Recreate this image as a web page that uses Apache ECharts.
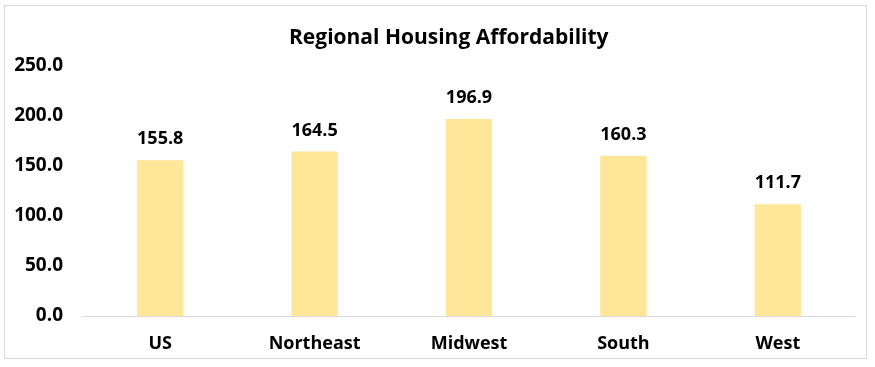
<!DOCTYPE html>
<html><head><meta charset="utf-8">
<script src="https://cdn.jsdelivr.net/npm/echarts@6/dist/echarts.min.js"></script>
<style>html,body{margin:0;padding:0;background:#fff}#c{width:875px;height:367px}
#frame{position:absolute;left:4px;top:5px;width:861px;height:352px;border:1px solid #d9d9d9;pointer-events:none}</style>
</head><body><div id="c"></div><div id="frame"></div>
<script>
const title = "Regional Housing Affordability";
const categories = ["US", "Northeast", "Midwest", "South", "West"];
const values = [155.8, 164.5, 196.9, 160.3, 111.7];
const yTicks = { min: 0, max: 250, interval: 50 };

const font = "'Open Sans', 'Liberation Sans', sans-serif";
const chart = echarts.init(document.getElementById('c'));
chart.setOption({
  animation: false,
  title: { text: title, left: 284, top: 23, textStyle: { fontFamily: font, fontWeight: 'bold', fontSize: 21, color: '#000' } },
  grid: { left: 83, right: 20, top: 66, bottom: 51 },
  xAxis: {
    type: 'category', data: categories,
    axisLine: { lineStyle: { color: '#d9d9d9', width: 1 } },
    axisTick: { show: false },
    axisLabel: { margin: 19, fontFamily: font, fontWeight: 'bold', fontSize: 18, color: '#000' }
  },
  yAxis: {
    type: 'value', min: yTicks.min, max: yTicks.max, interval: yTicks.interval,
    splitLine: { show: false }, axisLine: { show: false }, axisTick: { show: false },
    axisLabel: { margin: 20, formatter: v => v.toFixed(1), fontFamily: font, fontWeight: 'bold', fontSize: 19, color: '#000' }
  },
  series: [{
    type: 'bar', data: values, barWidth: '30%',
    itemStyle: { color: '#FFE699' },
    label: { show: true, position: 'top', distance: 12, formatter: p => p.value.toFixed(1), fontFamily: font, fontWeight: 'bold', fontSize: 18, color: '#000' }
  }]
});
</script></body></html>
